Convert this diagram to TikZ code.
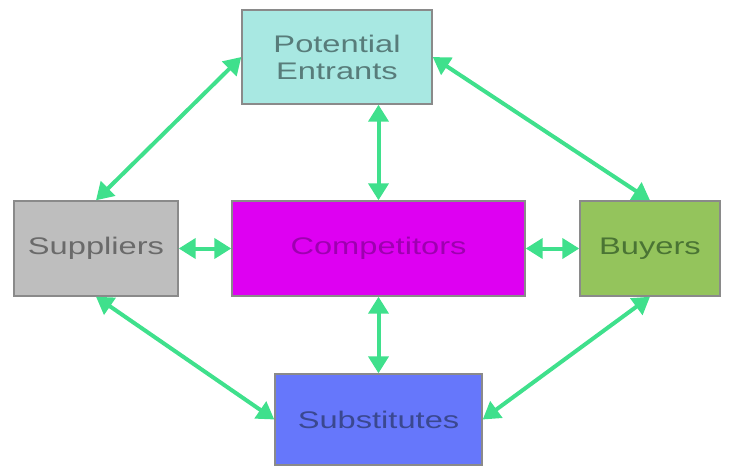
\documentclass[tikz,border=0pt]{standalone}
\usepackage{fontspec}
\setmainfont{Liberation Sans}
\usetikzlibrary{arrows.meta}
\definecolor{arrowgreen}{HTML}{3FE08C}
\definecolor{peFill}{HTML}{A8E8E2}
\definecolor{peText}{HTML}{587C7A}
\definecolor{supFill}{HTML}{BEBEBE}
\definecolor{supText}{HTML}{6A6A6A}
\definecolor{compFill}{HTML}{DE00F2}
\definecolor{compText}{HTML}{9E00B0}
\definecolor{buyFill}{HTML}{94C45C}
\definecolor{buyText}{HTML}{4A7434}
\definecolor{subFill}{HTML}{6677FB}
\definecolor{subText}{HTML}{3A4890}
\definecolor{edge}{HTML}{8A8A8A}
\newcommand{\wide}[1]{\scalebox{1.36}[1]{#1}}
\tikzset{
  box/.style={draw=edge, line width=1.4pt, inner sep=0pt, align=center,
    font=\fontsize{24}{27}\selectfont},
  link/.style={draw=arrowgreen, line width=4pt,
    {Triangle[length=17pt,width=20pt]}-{Triangle[length=17pt,width=20pt]}}
}
\begin{document}
\begin{tikzpicture}[x=1pt,y=-1pt]
\useasboundingbox (0,0) rectangle (730,469);
\node[box, fill=peFill, text=peText, minimum width=190pt, minimum height=94pt] (pe) at (337,57)
  {\wide{Potential}\\\wide{Entrants}};
\node[box, fill=supFill, text=supText, minimum width=164pt, minimum height=95pt] (sup) at (96,248.5)
  {\wide{Suppliers}};
\node[box, fill=compFill, text=compText, minimum width=293pt, minimum height=95pt] (comp) at (378.5,248.5)
  {\wide{Competitors}};
\node[box, fill=buyFill, text=buyText, minimum width=140pt, minimum height=95pt] (buy) at (650,248.5)
  {\wide{Buyers}};
\node[box, fill=subFill, text=subText, minimum width=207pt, minimum height=91pt] (sub) at (378.5,419.5)
  {\wide{Substitutes}};
\draw[link] (sup.north) -- (pe.west);
\draw[link] (pe.east) -- (buy.north);
\draw[link] (pe.south -| comp.center) -- (comp.north);
\draw[link] (sup.east) -- (comp.west);
\draw[link] (comp.east) -- (buy.west);
\draw[link] (comp.south) -- (sub.north);
\draw[link] (sup.south) -- (sub.west);
\draw[link] (buy.south) -- (sub.east);
\end{tikzpicture}
\end{document}
